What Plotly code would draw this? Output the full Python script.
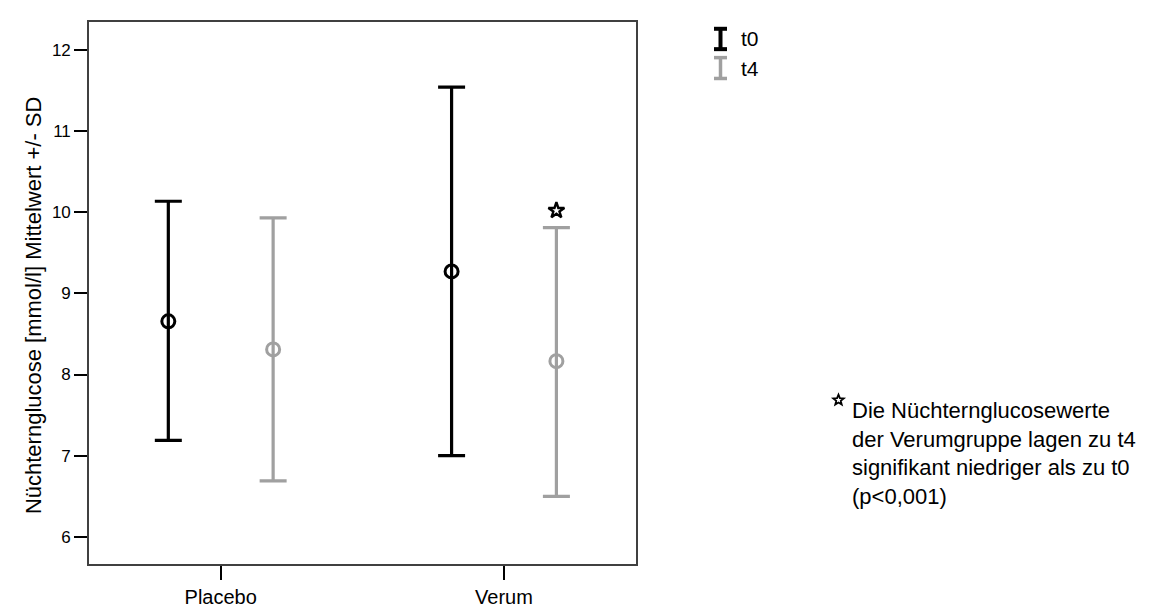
import math
import plotly.graph_objects as go

# ---- data ----
categories = ["Placebo", "Verum"]
t0_mean = [8.655, 9.27]
t0_upper = [10.135, 11.54]
t0_lower = [7.19, 7.00]
t4_mean = [8.31, 8.165]
t4_upper = [9.93, 9.81]
t4_lower = [6.69, 6.50]
star_group = ["Verum"]
star_y = [10.02]
tick_vals = [6, 7, 8, 9, 10, 11, 12]
series_names = ["t0", "t4"]
note_text = ("Die Nüchternglucosewerte<br>der Verumgruppe lagen zu t4<br>"
             "signifikant niedriger als zu t0<br>(p<0,001)")
y_title = "Nüchternglucose [mmol/l] Mittelwert +/- SD"

# ---- style ----
FONT = "Arial, Liberation Sans, sans-serif"
C_T0 = "#000000"
C_T4 = "#a0a0a0"
OFFSET = 0.185
W, H = 1156, 612
L, R, T, B = 81, 528, 13, 40
pw, ph = W - L - R, H - T - B


def px_x(px):
    return (px - L) / pw


def px_y(py):
    return (H - B - py) / ph


idx = list(range(len(categories)))

fig = go.Figure()


def add_series(means, upper, lower, color, sign):
    xs = [i + sign * OFFSET for i in idx]
    fig.add_trace(go.Scatter(
        x=xs, y=means, mode="markers",
        marker=dict(symbol="circle-open", size=13, color=color,
                    line=dict(width=3, color=color)),
        error_y=dict(type="data", symmetric=False,
                     array=[u - m for u, m in zip(upper, means)],
                     arrayminus=[m - lo for m, lo in zip(means, lower)],
                     color=color, thickness=3.2, width=13.5),
        showlegend=False, hoverinfo="skip",
    ))


add_series(t0_mean, t0_upper, t0_lower, C_T0, -1)
add_series(t4_mean, t4_upper, t4_lower, C_T4, +1)

# significance star above Verum t4
fig.add_trace(go.Scatter(
    x=[categories.index(g) + OFFSET for g in star_group], y=star_y,
    mode="markers",
    marker=dict(symbol="star-open", size=12, color="#000000",
                line=dict(width=2.4, color="#000000")),
    showlegend=False, hoverinfo="skip",
))

shapes = []
annotations = []

# legend glyphs (I-beams) + labels
legend_rows = [(C_T0, 18, 43, 4.0), (C_T4, 48, 73, 3.5)]
for (col, ytop, ybot, lw), name in zip(legend_rows, series_names):
    xc = 712.5
    shapes.append(dict(type="line", xref="paper", yref="paper",
                       x0=px_x(xc), x1=px_x(xc), y0=px_y(ytop + 1), y1=px_y(ybot - 1),
                       line=dict(color=col, width=lw)))
    for yy in (ytop + lw / 2, ybot - lw / 2):
        shapes.append(dict(type="line", xref="paper", yref="paper",
                           x0=px_x(xc - 6.5), x1=px_x(xc + 6.5), y0=px_y(yy), y1=px_y(yy),
                           line=dict(color=col, width=lw)))
    annotations.append(dict(text=name, xref="paper", yref="paper",
                            x=px_x(731), y=px_y((ytop + ybot) / 2),
                            xanchor="left", yanchor="middle", showarrow=False,
                            font=dict(family=FONT, size=21, color="#000000")))

# small star before note
def star_path(R_out, r_in):
    pts = []
    for k in range(10):
        ang = math.pi / 2 + k * math.pi / 5
        rr = R_out if k % 2 == 0 else r_in
        pts.append((rr * math.cos(ang), rr * math.sin(ang)))
    return "M " + " L ".join(f"{x:.2f},{y:.2f}" for x, y in pts) + " Z"


shapes.append(dict(type="path", xref="paper", yref="paper",
                   xsizemode="pixel", ysizemode="pixel",
                   xanchor=px_x(830.5), yanchor=px_y(403),
                   path=star_path(5.5, 2.4),
                   line=dict(color="#000000", width=1.8), fillcolor="rgba(0,0,0,0)"))

annotations.append(dict(text=note_text, xref="paper", yref="paper",
                        x=px_x(842), y=px_y(458.5), xanchor="left", yanchor="middle",
                        align="left", showarrow=False,
                        font=dict(family=FONT, size=22, color="#000000")))

# y-axis title
annotations.append(dict(text=y_title, xref="paper", yref="paper",
                        x=px_x(25), y=px_y(305), xanchor="center", yanchor="middle",
                        textangle=-90, showarrow=False,
                        font=dict(family=FONT, size=22, color="#000000")))

fig.update_layout(
    width=W, height=H,
    margin=dict(l=L, r=R, t=T, b=B, pad=0),
    paper_bgcolor="white", plot_bgcolor="white",
    showlegend=False,
    shapes=shapes, annotations=annotations,
    font=dict(family=FONT, color="#000000"),
    xaxis=dict(range=[-0.465, 1.466], tickmode="array", tickvals=idx,
               ticktext=categories, showgrid=False, zeroline=False,
               showline=True, mirror=True, linecolor="#404040", linewidth=1.6,
               ticks="outside", ticklen=14, tickwidth=2, tickcolor="#000000",
               tickfont=dict(family=FONT, size=20, color="#000000")),
    yaxis=dict(range=[5.666, 12.343], tickmode="array", tickvals=tick_vals,
               showgrid=False, zeroline=False,
               showline=True, mirror=True, linecolor="#404040", linewidth=1.6,
               ticks="outside", ticklen=13, tickwidth=2, tickcolor="#000000",
               tickfont=dict(family=FONT, size=17, color="#000000")),
)

fig.write_html("out.html")
